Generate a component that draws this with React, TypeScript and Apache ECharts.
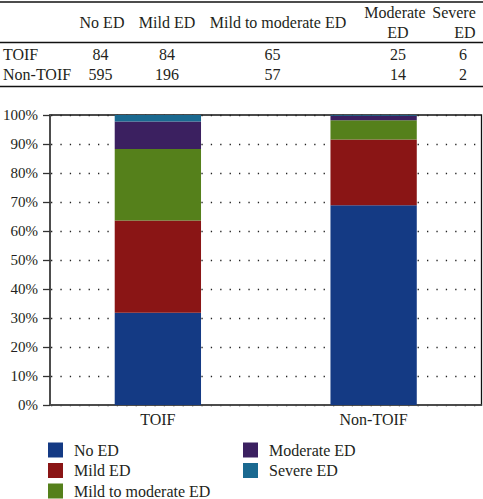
import React, { useEffect, useRef } from "react";
import * as echarts from "echarts";

const groups = ["TOIF", "Non-TOIF"];
const edLevels = ["No ED", "Mild ED", "Mild to moderate ED", "Moderate ED", "Severe ED"];
const headerLines = [["No ED"], ["Mild ED"], ["Mild to moderate ED"], ["Moderate", "ED"], ["Severe", "ED"]];
const toifCounts = [84, 84, 65, 25, 6];
const nonToifCounts = [595, 196, 57, 14, 2];
const yTicks = [0, 10, 20, 30, 40, 50, 60, 70, 80, 90, 100];
const colors = ["#143a84", "#8a1515", "#55801b", "#3b2060", "#1a6990"];

const FONT = "Liberation Serif, DejaVu Serif, Times New Roman, serif";
const TXT = "#231f20";

// layout (positions only)
const headerX = [102, 167, 278, 395, 454];
const headerX2 = [102, 167, 278, 398, 465];
const valueX = [100.5, 167, 272.5, 398, 463];

export default function App() {
  const ref = useRef<HTMLDivElement>(null);
  useEffect(() => {
    if (!ref.current) return;
    const chart = echarts.init(ref.current, undefined, { renderer: "svg" });
    const rows = [toifCounts, nonToifCounts];
    const totals = rows.map((r) => r.reduce((a, b) => a + b, 0));
    const pct = edLevels.map((_, i) => rows.map((r, g) => (r[i] / totals[g]) * 100));

    const graphics: any[] = [];
    const line = (y: number) => ({
      type: "line",
      shape: { x1: 0, y1: y, x2: 483, y2: y },
      style: { stroke: "#111", lineWidth: 1.3 },
    });
    graphics.push(line(2), line(42.5), line(86.5));
    const txt = (s: string, x: number, y: number, align: string) => ({
      type: "text",
      x,
      y,
      style: {
        text: s,
        fill: TXT,
        fontSize: 16,
        fontFamily: FONT,
        textAlign: align,
        textVerticalAlign: "middle",
      },
    });
    headerLines.forEach((ls, i) => {
      if (ls.length === 1) graphics.push(txt(ls[0], headerX[i], 22.6, "center"));
      else {
        graphics.push(txt(ls[0], headerX[i], 12.6, "center"));
        graphics.push(txt(ls[1], headerX2[i], 32.6, "center"));
      }
    });
    const rowY = [54.6, 74.6];
    groups.forEach((g, gi) => {
      graphics.push(txt(g, 3, rowY[gi], "left"));
      rows[gi].forEach((v, i) => graphics.push(txt(String(v), valueX[i], rowY[gi], "center")));
    });

    const legendBase = {
      orient: "vertical",
      icon: "rect",
      itemWidth: 15,
      itemHeight: 15,
      itemGap: 4.5,
      top: 442,
      height: 90,
      padding: 0,
      textStyle: { fontSize: 16, fontFamily: FONT, color: TXT, padding: [0, 0, 0, 6] },
    };

    chart.setOption({
      animation: false,
      textStyle: { fontFamily: FONT },
      graphic: graphics,
      legend: [
        { ...legendBase, left: 48, data: edLevels.slice(0, 3) },
        { ...legendBase, left: 243, data: edLevels.slice(3) },
      ],
      grid: {
        left: 49,
        right: 1.5,
        top: 115,
        bottom: 94,
        show: true,
        borderColor: "#111",
        borderWidth: 1.3,
        containLabel: false,
      },
      xAxis: {
        type: "category",
        data: groups,
        axisTick: { show: false },
        axisLine: { lineStyle: { color: "#4d4d4d", width: 1.5 } },
        axisLabel: { fontSize: 16, fontFamily: FONT, color: TXT, margin: 6 },
      },
      yAxis: {
        type: "value",
        min: yTicks[0],
        max: yTicks[yTicks.length - 1],
        interval: 10,
        axisLine: { show: true, lineStyle: { color: "#4d4d4d", width: 2 } },
        axisTick: { show: true, length: 7, lineStyle: { color: "#333", width: 1.3 } },
        axisLabel: { formatter: "{value}%", fontSize: 15, fontFamily: FONT, color: TXT, margin: 12 },
        splitLine: { show: true, lineStyle: { color: "#222", width: 1.3, type: [1.3, 8.1], dashOffset: -1 } },
      },
      series: edLevels.map((name, i) => ({
        name,
        type: "bar",
        stack: "total",
        barWidth: "40%",
        data: pct[i],
        itemStyle: { color: colors[i] },
      })),
    });
    return () => chart.dispose();
  }, []);
  return (
    <div
      ref={ref}
      style={{ position: "fixed", left: 0, top: 0, width: 483, height: 499, background: "#fff" }}
    />
  );
}
